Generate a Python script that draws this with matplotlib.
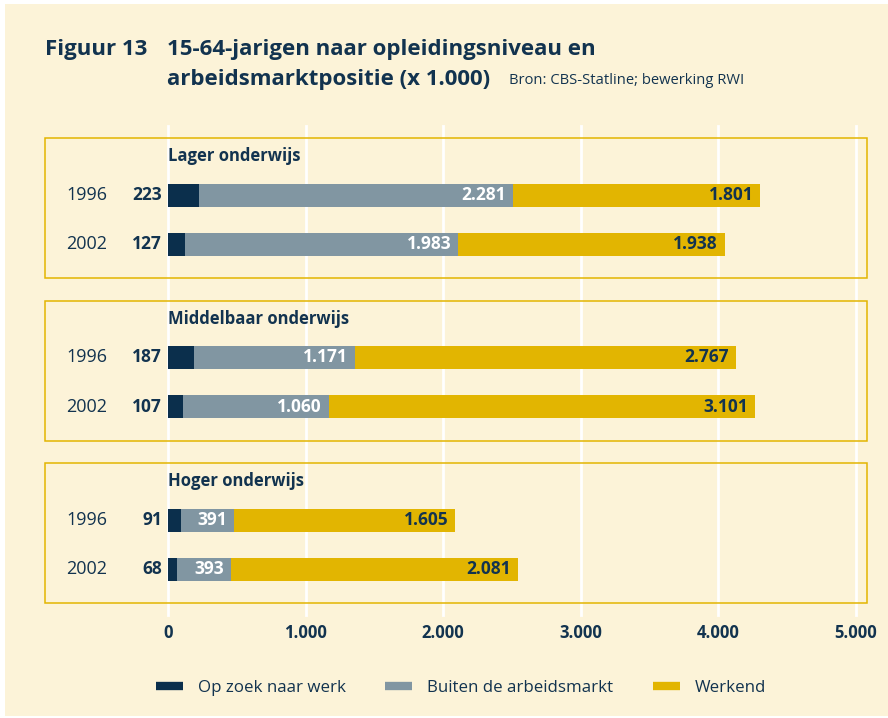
import matplotlib.pyplot as plt
from matplotlib.patches import Rectangle
from matplotlib.lines import Line2D

# data (x 1.000)
groups = ['Lager onderwijs', 'Middelbaar onderwijs', 'Hoger onderwijs']
years = ['1996', '2002']
op_zoek = [[223, 127], [187, 107], [91, 68]]
buiten = [[2281, 1983], [1171, 1060], [391, 393]]
werkend = [[1801, 1938], [2767, 3101], [1605, 2081]]
series_names = ['Op zoek naar werk', 'Buiten de arbeidsmarkt', 'Werkend']
xticks = [0, 1000, 2000, 3000, 4000, 5000]

NAVY = '#0b2f4c'
GREY = '#8196a2'
GOLD = '#e2b501'
BG = '#fcf3d8'
TXT = '#12334f'

plt.rcParams['font.family'] = ['Open Sans', 'DejaVu Sans']


def fmt(v):
    return '{:,}'.format(v).replace(',', '.')


W, H = 888, 718
fig = plt.figure(figsize=(W / 100, H / 100), dpi=100, facecolor='white')
fig.patches.append(Rectangle((5 / W, 2 / H), 1, 1 - 6 / H, transform=fig.transFigure,
                             facecolor=BG, edgecolor='none', zorder=-10))

# one axes over the whole figure: x in data units, y in pixel rows
ax = fig.add_axes([0, 0, 1, 1])
ax.set_facecolor('none')
px = 1000 / 137.6          # data units per pixel
x0 = 168                   # pixel of value 0
ax.set_xlim(-x0 * px, (W - x0) * px)
ax.set_ylim(H, 0)
ax.axis('off')

# white grid lines
for t in xticks:
    ax.plot([t, t], [126, 615], color='white', lw=2, zorder=1)
    ax.text(t, 633, fmt(t), ha='center', va='center', fontsize=12,
            fontweight='bold', color=TXT)

bar_h = 23
for g, name in enumerate(groups):
    top = 138 + g * 162.5
    ax.add_patch(Rectangle((-123 * px, top), 699 * px + 123 * px, 140, facecolor='none',
                           edgecolor=GOLD, lw=1.1, zorder=2))
    ax.text(0, top + 18, name, ha='left', va='center', fontsize=12,
            fontweight='bold', color=TXT)
    for r, yr in enumerate(years):
        y = top + 57 + r * 49
        a, b, c = op_zoek[g][r], buiten[g][r], werkend[g][r]
        ax.barh(y, a, height=bar_h, left=0, color=NAVY, zorder=3)
        ax.barh(y, b, height=bar_h, left=a, color=GREY, zorder=3)
        ax.barh(y, c, height=bar_h, left=a + b, color=GOLD, zorder=3)
        ax.text(-61 * px, y, yr, ha='right', va='center', fontsize=13, color=TXT)
        ax.text(-6 * px, y, fmt(a), ha='right', va='center', fontsize=12.5,
                fontweight='bold', color=TXT)
        ax.text(a + b - 7 * px, y, fmt(b), ha='right', va='center', fontsize=12.5,
                fontweight='bold', color='white', zorder=4)
        ax.text(a + b + c - 7 * px, y, fmt(c), ha='right', va='center', fontsize=12.5,
                fontweight='bold', color=TXT, zorder=4)

# title
fig.text(45 / W, 1 - 49 / H, 'Figuur 13', ha='left', va='center', fontsize=16,
         fontweight='bold', color=TXT)
fig.text(167 / W, 1 - 49 / H, '15-64-jarigen naar opleidingsniveau en', ha='left',
         va='center', fontsize=16, fontweight='bold', color=TXT)
fig.text(167 / W, 1 - 79 / H, 'arbeidsmarktpositie (x 1.000)', ha='left',
         va='center', fontsize=16, fontweight='bold', color=TXT)
fig.text(509 / W, 1 - 81 / H, 'Bron: CBS-Statline; bewerking RWI', ha='left',
         va='center', fontsize=10.6, color=TXT)

# legend
handles = [Line2D([], [], color=col, lw=6, solid_capstyle='butt')
           for col in [NAVY, GREY, GOLD]]
fig.legend(handles, series_names, loc='center', bbox_to_anchor=(461 / W, 1 - 688 / H),
           ncol=3, frameon=False, fontsize=12.2, handlelength=1.6, handletextpad=0.9,
           columnspacing=2.3, labelcolor=TXT)

fig.savefig('out.png', dpi=100, facecolor='white')
